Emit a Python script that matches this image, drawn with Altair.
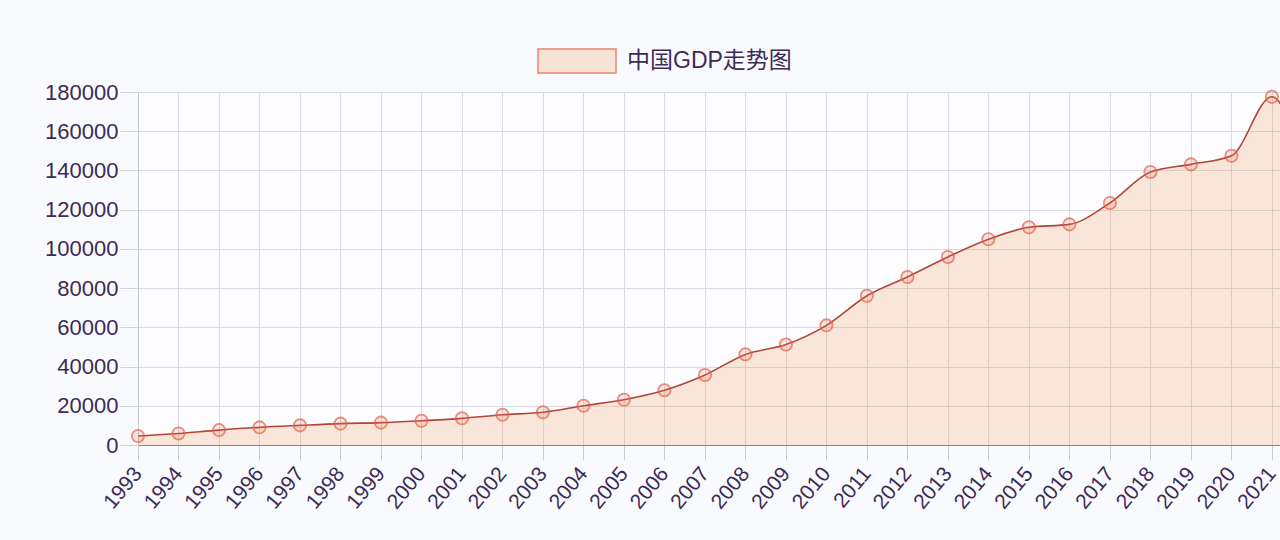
import altair as alt
import pandas as pd

years = list(range(1993, 2023))
gdp = [4600, 5900, 7600, 9000, 10000, 10900, 11400, 12400, 13600, 15400,
       16700, 20000, 23100, 27900, 35700, 46200, 51200, 61000, 76100, 85700,
       95900, 104900, 111000, 112500, 123400, 139200, 143100, 147500, 177600, 121000]
series = ["中国GDP走势图"] * len(years)
x_ticks = list(range(1993, 2022))
y_ticks = list(range(0, 180001, 20000))

df = pd.DataFrame({"year": years, "gdp": gdp, "series": series})

FONT = "Liberation Sans, Noto Sans CJK SC, sans-serif"
TEXT = "#3d2b56"

x = alt.X("year:Q",
          scale=alt.Scale(domain=[1993, 2021.2], nice=False, zero=False),
          axis=alt.Axis(values=x_ticks, format="d", title=None, labelAngle=-50,
                        labelAlign="right", labelBaseline="middle",
                        labelFontSize=21, labelColor=TEXT, labelFont=FONT,
                        tickSize=15, tickColor="#c9ccd6", labelPadding=10,
                        domainColor="#888888", gridColor="#d9dbe3",
                        labelOverlap=False, labelFlush=False))
y = alt.Y("gdp:Q",
          scale=alt.Scale(domain=[0, 180000], nice=False),
          axis=alt.Axis(values=y_ticks, format="d", title=None, labelFontSize=22,
                        labelColor=TEXT, labelFont=FONT, tickSize=18,
                        tickColor="#d0d3dc", labelPadding=2,
                        domainColor="#c4c7d0", gridColor="#d9dbe3"))

area = alt.Chart(df).mark_area(interpolate="monotone", clip=True).encode(
    x=x, y=y,
    color=alt.Color("series:N",
                    scale=alt.Scale(domain=["中国GDP走势图"],
                                    range=["rgba(240,150,80,0.22)"]),
                    legend=alt.Legend(title=None, orient="none", legendX=399,
                                      legendY=-71, symbolType="M-1,-0.31H1V0.31H-1Z",
                                      symbolSize=6084, symbolStrokeColor="#e8866a",
                                      symbolStrokeWidth=1.5, symbolOpacity=1,
                                      labelFontSize=23, labelColor=TEXT,
                                      labelFont=FONT, labelOffset=10, padding=0,
                                      labelLimit=400))
)

line = alt.Chart(df).mark_line(interpolate="monotone", clip=True,
                               color="#b0463a", strokeWidth=1.6).encode(x=x, y=y)

points = alt.Chart(df).mark_point(filled=False, size=150,
                                  stroke="#e0604a", strokeWidth=1.8,
                                  fill="rgba(240,120,90,0.25)").encode(x=x, y=y)

chart = alt.layer(area, line, points).properties(
    width=1142, height=353,
    padding={"left": 138, "top": 92, "right": 0, "bottom": 95},
    autosize=alt.AutoSizeParams(type="none"),
    background="#f9fafd",
).configure_view(stroke=None, fill="#fdfdff")

chart.save("out.html", embed_options={"renderer": "svg", "actions": False})
